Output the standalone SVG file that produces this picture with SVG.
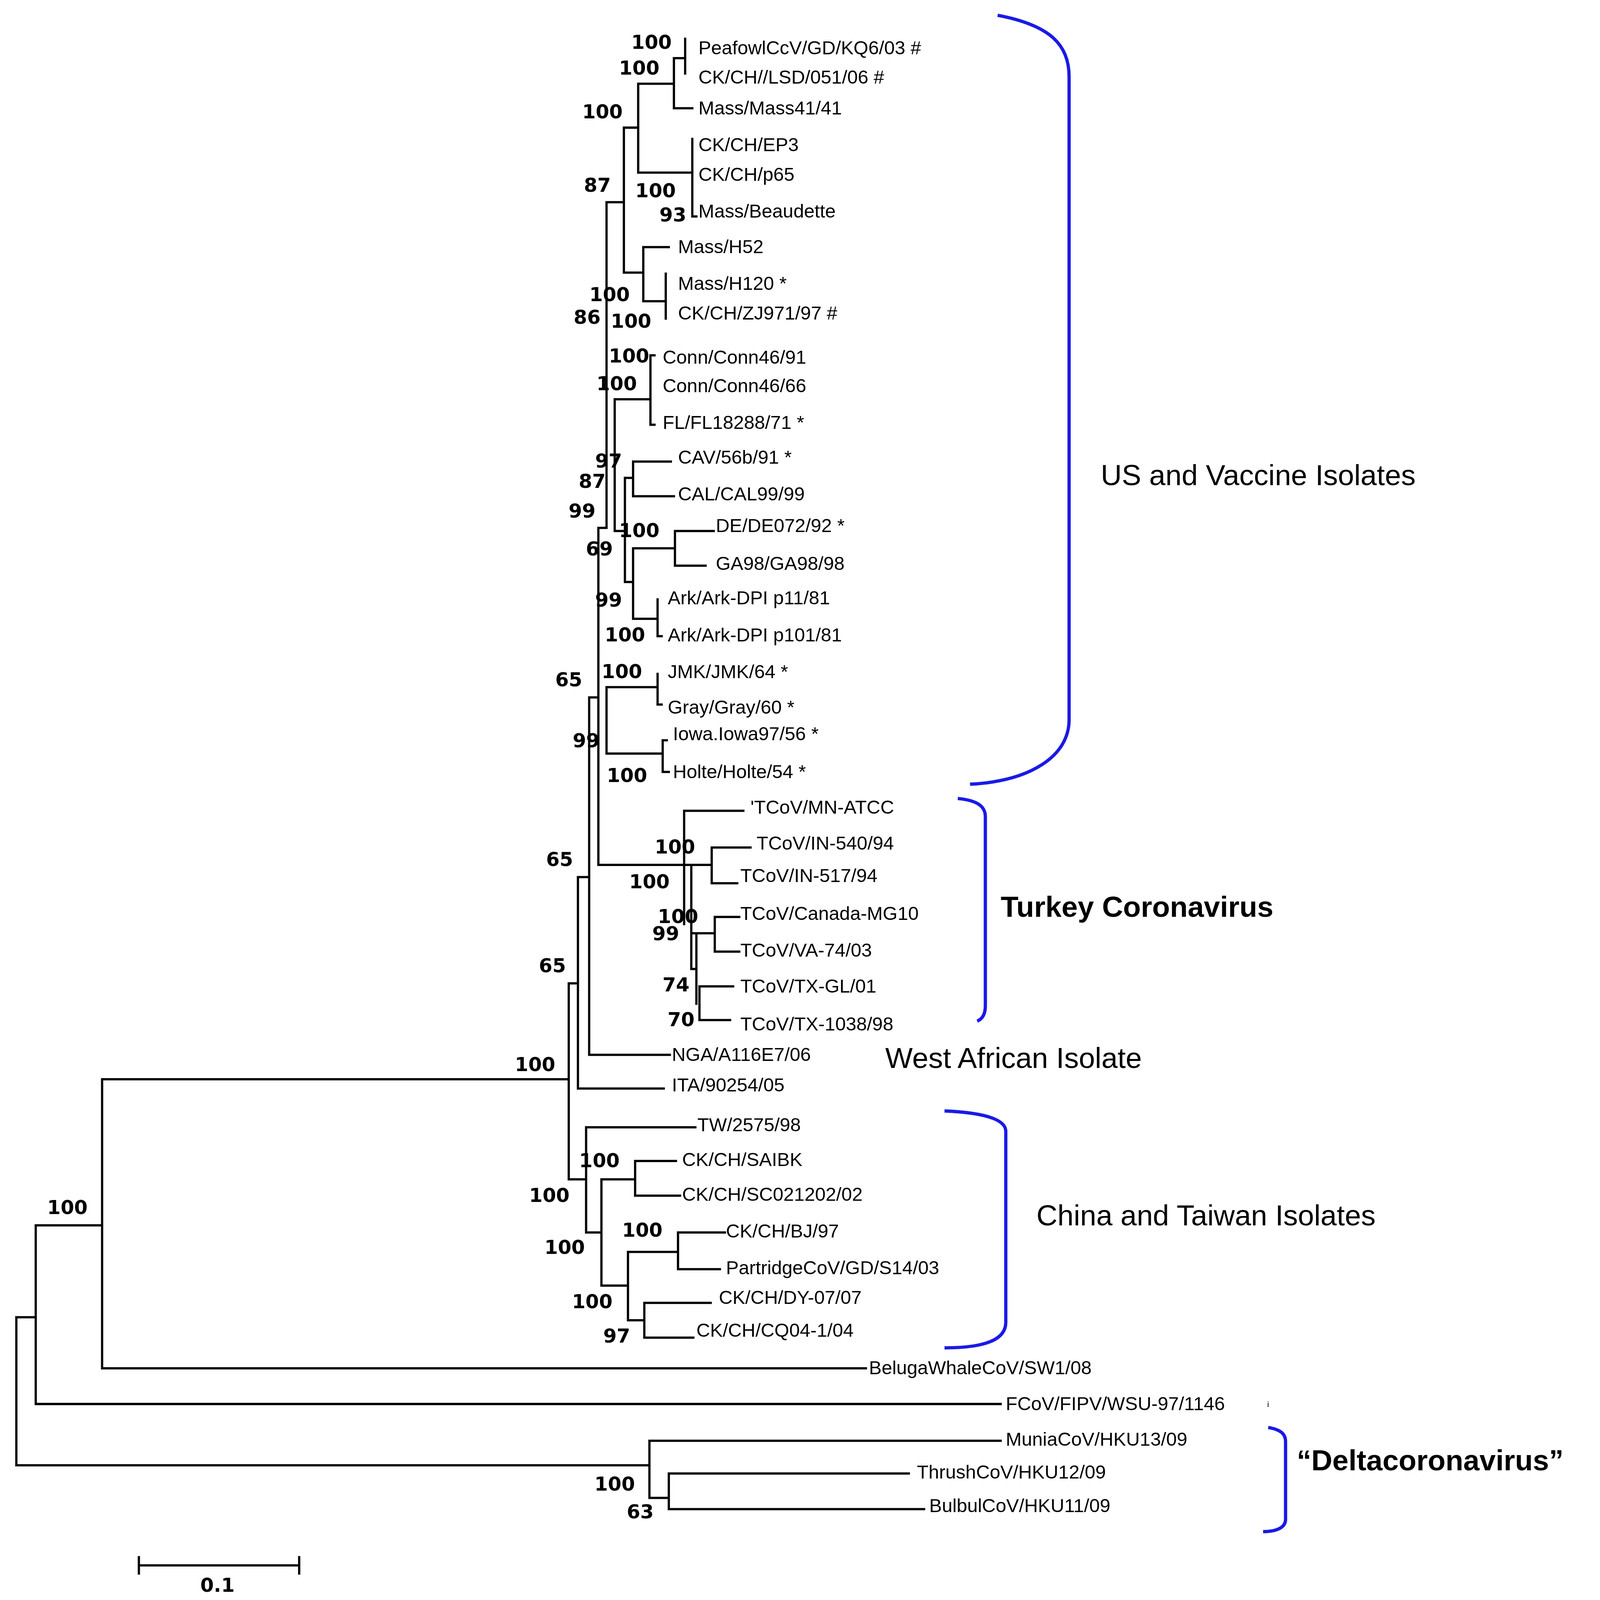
<svg xmlns="http://www.w3.org/2000/svg" width="4196" height="4310" viewBox="0 0 4196 4310">
<style>
.t{stroke:#000;stroke-width:2.2;fill:none;stroke-linecap:square}
.b{stroke:#1a1ae6;stroke-width:3.2;fill:none}
.l{font-family:"Liberation Sans",Arial,sans-serif;font-size:18.6px;fill:#000}
.n{font-family:"DejaVu Sans","Liberation Sans",sans-serif;font-weight:bold;font-size:19px;fill:#000;text-anchor:middle}
.g{font-family:"Liberation Sans",Arial,sans-serif;font-size:28.5px;fill:#000}
</style>
<rect width="4196" height="4310" fill="#fff"/>
<g transform="scale(2.614)">
<g id="connectors">
<path class="t" d="M16,1290V1435M16,1290H35M16,1435H636
M35,1200V1375M35,1200H100M35,1375H980
M100,1057V1340M100,1057H557M100,1340H848
M557,963V1155M557,963H566M557,1155H574
M566,859V1066M566,859H577M566,1066H650
M577,683V1033M577,683H586M577,1033H656
M586,517V847M586,517H594M586,847H697
M594,198V517M594,198H611M594,673V738M594,673H644M594,738H649
M611,125V267M611,125H625M611,267H630
M625,82V169M625,82H660M625,169H678
M660,57V106M660,57H671M660,106H678
M671,38V72M678,136V212M678,212H682
M630,242V295M630,242H655M630,295H652M652,268V312
M602,391V520M602,391H637M637,348V416M637,416H641M637,348H641
M602,520H612M612,468V570M612,468H620M620,452V486M620,452H657M620,486H660
M612,570H620M620,537V606M620,537H661M661,520V554M661,520H699M661,554H691
M620,606H644M644,587V623M644,623H648
M644,673V690M644,690H648M644,673V660
M649,725V743M649,725H653M649,743V756M649,756H655
M670,794V905M670,794H728
M697,830V865M697,830H735M697,865H722
M677,847V949M677,914H700M700,898V932M700,898H724M700,932H724
M677,949H682M682,914V983M685,966V999M685,966H718M685,999H715
M574,1104V1207M574,1104H681M574,1207H589
M589,1155V1259M589,1155H622M622,1137V1171M622,1137H662M622,1171H666
M589,1259H615M615,1226V1293M615,1226H664M664,1207V1243M664,1207H710M664,1243H705
M615,1293H631M631,1276V1310M631,1276H696M631,1310H679
M636,1411V1467M636,1411H980M636,1467H655M655,1443V1478M655,1443H890M655,1478H905
M136,1533H293M136,1525V1541M293,1525V1541"/>
</g>
<g id="brackets">
<path class="b" d="M977,15C1030,25 1047,45 1047,75V705C1047,740 1010,765 950,768"/>
<path class="b" d="M938,782C958,784 965,790 965,800V985C965,993 962,998 957,1000"/>
<path class="b" d="M925,1088C970,1090 985,1098 985,1108V1295C985,1312 965,1320 925,1320"/>
<path class="b" d="M1242,1398C1254,1400 1259,1404 1259,1412V1488C1259,1495 1252,1500 1237,1500"/>
</g>
<g id="leaves" class="l">
<text x="684" y="53">PeafowlCcV/GD/KQ6/03 #</text>
<text x="684" y="82">CK/CH//LSD/051/06 #</text>
<text x="684" y="112">Mass/Mass41/41</text>
<text x="684" y="148">CK/CH/EP3</text>
<text x="684" y="177">CK/CH/p65</text>
<text x="684" y="213">Mass/Beaudette</text>
<text x="664" y="248">Mass/H52</text>
<text x="664" y="284">Mass/H120 *</text>
<text x="664" y="313">CK/CH/ZJ971/97 #</text>
<text x="649" y="356">Conn/Conn46/91</text>
<text x="649" y="384">Conn/Conn46/66</text>
<text x="649" y="420">FL/FL18288/71 *</text>
<text x="664" y="454">CAV/56b/91 *</text>
<text x="664" y="490">CAL/CAL99/99</text>
<text x="701" y="521">DE/DE072/92 *</text>
<text x="701" y="558">GA98/GA98/98</text>
<text x="654" y="592">Ark/Ark-DPI p11/81</text>
<text x="654" y="628">Ark/Ark-DPI p101/81</text>
<text x="654" y="664">JMK/JMK/64 *</text>
<text x="654" y="699">Gray/Gray/60 *</text>
<text x="659" y="725">Iowa.Iowa97/56 *</text>
<text x="659" y="762">Holte/Holte/54 *</text>
<text x="735" y="797">'TCoV/MN-ATCC</text>
<text x="741" y="832">TCoV/IN-540/94</text>
<text x="725" y="864">TCoV/IN-517/94</text>
<text x="725" y="901">TCoV/Canada-MG10</text>
<text x="725" y="937">TCoV/VA-74/03</text>
<text x="725" y="972">TCoV/TX-GL/01</text>
<text x="725" y="1009">TCoV/TX-1038/98</text>
<text x="658" y="1039">NGA/A116E7/06</text>
<text x="658" y="1069">ITA/90254/05</text>
<text x="683" y="1108">TW/2575/98</text>
<text x="668" y="1142">CK/CH/SAIBK</text>
<text x="668" y="1176">CK/CH/SC021202/02</text>
<text x="711" y="1212">CK/CH/BJ/97</text>
<text x="711" y="1248">PartridgeCoV/GD/S14/03</text>
<text x="704" y="1277">CK/CH/DY-07/07</text>
<text x="682" y="1309">CK/CH/CQ04-1/04</text>
<text x="851" y="1346">BelugaWhaleCoV/SW1/08</text>
<text x="985" y="1381">FCoV/FIPV/WSU-97/1146</text>
<text x="1241" y="1378" font-size="8">i</text>
<text x="985" y="1416">MuniaCoV/HKU13/09</text>
<text x="898" y="1448">ThrushCoV/HKU12/09</text>
<text x="910" y="1481">BulbulCoV/HKU11/09</text>
</g>
<g id="bootstrap" class="n">
<text x="638" y="48">100</text><text x="626" y="73">100</text><text x="590" y="116">100</text>
<text x="585" y="188">87</text><text x="642" y="193">100</text><text x="659" y="217">93</text>
<text x="597" y="295">100</text><text x="575" y="317">86</text><text x="618" y="321">100</text>
<text x="616" y="355">100</text><text x="604" y="382">100</text><text x="596" y="458">97</text>
<text x="580" y="478">87</text><text x="570" y="507">99</text><text x="626" y="526">100</text>
<text x="587" y="544">69</text><text x="596" y="594">99</text><text x="612" y="628">100</text>
<text x="609" y="664">100</text><text x="557" y="672">65</text><text x="574" y="732">99</text>
<text x="614" y="766">100</text><text x="548" y="848">65</text><text x="661" y="836">100</text>
<text x="636" y="870">100</text><text x="664" y="904">100</text><text x="652" y="921">99</text>
<text x="662" y="971">74</text><text x="667" y="1005">70</text><text x="541" y="952">65</text>
<text x="524" y="1049">100</text><text x="587" y="1143">100</text><text x="538" y="1177">100</text>
<text x="629" y="1211">100</text><text x="553" y="1228">100</text><text x="580" y="1281">100</text>
<text x="604" y="1315">97</text><text x="66" y="1189">100</text><text x="602" y="1460">100</text>
<text x="627" y="1487">63</text><text x="213" y="1559">0.1</text>
</g>
<g id="groups">
<text class="g" x="1078" y="475">US and Vaccine Isolates</text>
<text class="g" x="980" y="898" font-weight="bold" font-size="25">Turkey Coronavirus</text>
<text class="g" x="867" y="1046" font-size="26.5">West African Isolate</text>
<text class="g" x="1015" y="1200" font-size="26.5">China and Taiwan Isolates</text>
<text class="g" x="1270" y="1440" font-weight="bold" font-size="24">“Deltacoronavirus”</text>
</g>
</g>
</svg>
